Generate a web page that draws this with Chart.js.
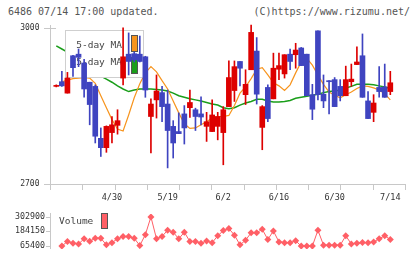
<!DOCTYPE html>
<html>
<head>
<meta charset="utf-8">
<script src="https://cdn.jsdelivr.net/npm/chart.js@4.4.1/dist/chart.umd.min.js"></script>
<style>
  html, body { margin: 0; padding: 0; background: #fff; }
  #wrap { position: relative; width: 420px; height: 259px; overflow: hidden; font-family: 'DejaVu Sans Mono', monospace; }
  .hd { position: absolute; top: 6px; font-size: 10px; line-height: 12px; color: #555; white-space: nowrap; }
  #main { position: absolute; left: 0; top: 0; }
  #vol { position: absolute; left: 0; top: 204px; }
</style>
</head>
<body>
<div id="wrap">
  <div class="hd" style="left:8px">6486 07/14 17:00 updated.</div>
  <div class="hd" style="right:10px">(C)https://www.rizumu.net/</div>
  <canvas id="main" width="420" height="204"></canvas>
  <canvas id="vol" width="420" height="55"></canvas>
</div>
<script>
(function () {
  'use strict'
//----------------

var dates = ['4/15','4/16','4/17','4/18','4/21','4/22','4/23','4/24','4/25','4/28',
  '4/30','5/1','5/7','5/8','5/9','5/12','5/13','5/14','5/15','5/16',
  '5/19','5/20','5/21','5/22','5/23','5/26','5/27','5/28','5/29','5/30',
  '6/2','6/3','6/4','6/5','6/6','6/9','6/10','6/11','6/12','6/13',
  '6/16','6/17','6/18','6/19','6/20','6/23','6/24','6/25','6/26','6/27',
  '6/30','7/1','7/2','7/3','7/4','7/7','7/8','7/9','7/10','7/11','7/14']

var tickIdx = [10, 20, 30, 40, 50, 60]
var priceTicks = [2700, 3000]
var volTicks = [65400, 184150, 302900]

var open  = [2888,2897,2875,2947,2950,2933,2896,2888,2788,2770,
  2799,2813,2904,2950,2951,2950,2945,2830,2862,2876,
  2854,2811,2801,2835,2847,2843,2835,2811,2801,2811,
  2799,2849,2880,2936,2872,2920,2956,2809,2886,2864,
  2921,2912,2950,2949,2962,2950,2872,2995,2873,2899,
  2901,2888,2870,2897,2930,2947,2860,2838,2886,2887,2878]
var high  = [2891,2917,2915,2948,2960,2940,2896,2891,2808,2812,
  2830,2843,3001,2991,2954,2985,2946,2864,2910,2888,
  2881,2822,2837,2851,2881,2846,2868,2838,2862,2838,
  2849,2937,2937,2936,2920,3006,2982,2851,2891,2952,
  2952,2949,2960,2971,2963,2950,2892,2995,2910,2899,
  2905,2901,2927,2931,2964,2989,2878,2872,2926,2931,2917]
var low   = [2887,2888,2875,2907,2926,2867,2814,2779,2753,2761,
  2779,2796,2891,2910,2935,2935,2867,2760,2827,2820,
  2731,2750,2797,2777,2828,2803,2814,2782,2801,2785,
  2737,2849,2859,2889,2853,2920,2854,2766,2820,2864,
  2901,2904,2920,2923,2928,2870,2824,2862,2847,2835,
  2849,2860,2870,2888,2930,2867,2826,2820,2867,2867,2872]
var close = [2889,2889,2904,2924,2944,2883,2853,2792,2770,2811,
  2814,2822,2945,2936,2939,2936,2881,2854,2879,2849,
  2803,2779,2797,2808,2857,2830,2829,2820,2833,2830,
  2843,2905,2926,2923,2892,2992,2873,2849,2826,2923,
  2928,2949,2936,2958,2928,2870,2844,2872,2860,2897,
  2849,2870,2901,2902,2935,2867,2826,2856,2878,2867,2895]

var ma5 = [null,2897,2900,2903,2904,2905,2904,2894,2870,2847,
  2824,2806,2802,2833,2866,2893,2914,2926,2916,2899,
  2883,2860,2837,2816,2807,2808,2814,2820,2827,2830,
  2830,2832,2851,2875,2887,2903,2921,2924,2910,2895,
  2889,2880,2891,2914,2935,2942,2929,2910,2892,2877,
  2871,2866,2872,2877,2884,2889,2888,2885,2881,2874,2862]
var ma25 = [2966,2960,2954,2947,2939,2931,2924,2916,2908,2902,
  2896,2889,2883,2878,2881,2883,2883,2883,2882,2881,
  2879,2875,2870,2867,2864,2862,2860,2857,2854,2852,
  2847,2845,2847,2852,2856,2859,2863,2863,2860,2858,
  2858,2859,2861,2865,2867,2869,2871,2873,2876,2878,
  2879,2881,2885,2888,2892,2892,2892,2891,2889,2887,2884]

var volume = [null,61300,99400,85500,79400,121700,101800,125900,125900,71600,
  89700,121700,139800,139800,125900,65500,156100,302900,121700,141600,
  192400,176100,121700,176100,99400,99400,85500,103600,89700,145900,
  190000,206300,151900,71600,109600,171800,171800,200200,115700,186300,
  95700,89700,89700,105400,61300,61300,61300,192400,69200,69200,
  69200,69200,145900,79400,85500,91500,89700,95700,121700,145900,115700]

var RED = '#dd0000', BLUE = '#3f44c0', ORANGE = '#f7941d', GREEN = '#1a9e1a', VOLC = '#ff5f66'
var AXIS = '#c8c8c8', TXT = '#333'
var XMIN = -1.13, XMAX = 62.64

var colors = open.map(function (o, i) { return close[i] >= o ? RED : BLUE })
var pts = function (arr) { return arr.map(function (v, i) { return { x: i, y: v } }) }
var plain = function (v) { return String(v) }

// frame: left axis, bottom line and the 11 little ticks under it
var frame = {
  id: 'frame',
  beforeDatasetsDraw: function (chart) {
    var ctx = chart.ctx, a = chart.chartArea, y = chart.scales.y
    ctx.save()
    ctx.strokeStyle = AXIS
    ctx.lineWidth = 1
    ctx.beginPath()
    ctx.moveTo(50.5, 25); ctx.lineTo(50.5, 190)
    ctx.moveTo(44, Math.round(a.bottom) + 0.5); ctx.lineTo(a.right + 0.5, Math.round(a.bottom) + 0.5)
    var t = Math.round(y.getPixelForValue(3000)) + 0.5
    ctx.moveTo(44, t); ctx.lineTo(56, t)
    var step = (a.right - 50) / 11
    for (var k = 1; k <= 11; k++) {
      var xx = Math.round(50 + k * step) + 0.5
      ctx.moveTo(xx, a.bottom); ctx.lineTo(xx, a.bottom + 6)
    }
    ctx.stroke()
    ctx.restore()
  }
}

// legend box drawn after the MA lines, under the candles
var maLegend = {
  id: 'maLegend',
  afterDatasetDraw: function (chart, args) {
    if (args.index !== 0) return
    var ctx = chart.ctx
    ctx.save()
    ctx.fillStyle = '#fff'
    ctx.fillRect(65, 30, 78, 47)
    ctx.strokeStyle = '#cfcfcf'
    ctx.strokeRect(65.5, 30.5, 78, 47)
    ctx.font = '9.5px "DejaVu Sans Mono"'
    ctx.textAlign = 'right'
    ctx.textBaseline = 'middle'
    ctx.fillStyle = '#444'
    ctx.fillText('5-day MA', 122, 45.5)
    ctx.fillText('25-day MA', 122, 63)
    ctx.strokeStyle = '#555'
    ctx.fillStyle = ORANGE
    ctx.fillRect(131, 35, 6, 16); ctx.strokeRect(131.5, 35.5, 6, 16)
    ctx.fillStyle = GREEN
    ctx.fillRect(131, 57, 6, 16); ctx.strokeRect(131.5, 57.5, 6, 16)
    ctx.restore()
  }
}

new Chart(document.getElementById('main'), {
  type: 'bar',
  data: {
    datasets: [
      { type: 'line', label: '5-day MA', data: pts(ma5), borderColor: ORANGE, borderWidth: 1.2, pointRadius: 0, order: 3 },
      { type: 'line', label: '25-day MA', data: pts(ma25), borderColor: GREEN, borderWidth: 1.5, pointRadius: 0, order: 4 },
      { label: 'wick', data: low.map(function (l, i) { return { x: i, y: [l, high[i]] } }),
        backgroundColor: colors, barThickness: 1, grouped: false, order: 2 },
      { label: 'body', data: open.map(function (o, i) { return { x: i, y: [o, close[i]] } }),
        backgroundColor: colors, barThickness: 5, minBarLength: 1, grouped: false, order: 1 }
    ]
  },
  options: {
    responsive: false,
    animation: false,
    layout: { padding: { top: 22, right: 15, left: 0, bottom: 0 } },
    plugins: { legend: { display: false }, tooltip: { enabled: false } },
    scales: {
      x: {
        type: 'linear', min: XMIN, max: XMAX, offset: false,
        grid: { display: false, drawTicks: false }, border: { display: false },
        afterBuildTicks: function (s) { s.ticks = tickIdx.map(function (v) { return { value: v } }) },
        ticks: { callback: function (v) { return dates[v] }, autoSkip: false, maxRotation: 0, padding: 9,
          color: TXT, font: { family: 'DejaVu Sans Mono', size: 8.5 } },
        afterFit: function (s) { s.height = 20 }
      },
      y: {
        min: 2700, max: 3012,
        grid: { display: false, drawTicks: false }, border: { display: false },
        afterBuildTicks: function (s) { s.ticks = priceTicks.map(function (v) { return { value: v } }) },
        ticks: { callback: plain, padding: 10.5, color: TXT, font: { family: 'DejaVu Sans Mono', size: 8 } },
        afterFit: function (s) { s.width = 50 }
      }
    }
  },
  plugins: [frame, maLegend]
})

// volume panel
var volFrame = {
  id: 'volFrame',
  beforeDatasetsDraw: function (chart) {
    var ctx = chart.ctx, a = chart.chartArea, y = chart.scales.y
    ctx.save()
    ctx.strokeStyle = AXIS
    ctx.beginPath()
    ctx.moveTo(50.5, a.top - 1); ctx.lineTo(50.5, a.bottom)
    volTicks.forEach(function (v) {
      var t = Math.round(y.getPixelForValue(v)) + 0.5
      ctx.moveTo(46, t); ctx.lineTo(50, t)
    })
    ctx.stroke()
    ctx.font = '9.5px "DejaVu Sans Mono"'
    ctx.textBaseline = 'middle'
    ctx.fillStyle = '#444'
    ctx.fillText('Volume', 59, 17.5)
    ctx.fillStyle = VOLC
    ctx.fillRect(101, 9, 6, 15)
    ctx.strokeStyle = '#555'
    ctx.strokeRect(101.5, 9.5, 6, 15)
    ctx.restore()
  }
}

new Chart(document.getElementById('vol'), {
  type: 'line',
  data: {
    datasets: [
      { label: 'Volume', data: pts(volume), borderColor: VOLC, backgroundColor: VOLC, borderWidth: 1,
        pointStyle: 'rectRot', pointRadius: 3.5, pointBorderWidth: 0 }
    ]
  },
  options: {
    responsive: false,
    animation: false,
    layout: { padding: { top: 1, right: 15, left: 0, bottom: 6 } },
    plugins: { legend: { display: false }, tooltip: { enabled: false } },
    scales: {
      x: { type: 'linear', min: XMIN, max: XMAX, display: false },
      y: {
        min: 37000, max: 327000,
        grid: { display: false, drawTicks: false }, border: { display: false },
        afterBuildTicks: function (s) { s.ticks = volTicks.map(function (v) { return { value: v } }) },
        ticks: { callback: plain, padding: 5, color: TXT, font: { family: 'DejaVu Sans Mono', size: 8.3 } },
        afterFit: function (s) { s.width = 50 }
      }
    }
  },
  plugins: [volFrame]
})

//----
})()
</script>
</body>
</html>
